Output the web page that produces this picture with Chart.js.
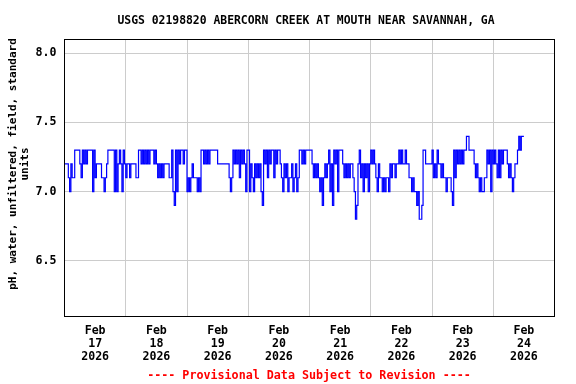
<!DOCTYPE html>
<html><head><meta charset="utf-8">
<script src="https://cdn.jsdelivr.net/npm/chart.js@4/dist/chart.umd.min.js"></script>
<style>html,body{margin:0;padding:0;background:#fff}#wrap{width:576px;height:384px;position:relative}</style>
</head><body><div id="wrap"><canvas id="c" width="576" height="384"></canvas></div>
<script>
const chartTitle = "USGS 02198820 ABERCORN CREEK AT MOUTH NEAR SAVANNAH, GA";
const yAxisLabel = ["pH, water, unfiltered, field, standard", "units"];
const footerText = "---- Provisional Data Subject to Revision ----";
const dayLabels = [["Feb","17","2026"],["Feb","18","2026"],["Feb","19","2026"],["Feb","20","2026"],["Feb","21","2026"],["Feb","22","2026"],["Feb","23","2026"],["Feb","24","2026"]];
const labelHours = [12,36,60,84,108,132,156,180];   // noon of each day, hours after Feb 17 00:00
const gridHours = [24,48,72,96,120,144,168];        // midnights
const yTicks = [6.5,7.0,7.5,8.0];
const stepHours = 0.5;                              // sampling interval of the series below

// pH readings, every 30 minutes from 00:00 of each day
const phFeb17 = [7.2,7.2,7.2,7.2,7.1,7.0,7.2,7.1,7.1,7.3,7.3,7.3,7.3,7.2,7.1,7.3,7.2,7.3,7.2,7.3,7.3,7.3,7.3,7.0,7.3,7.1,7.2,7.2,7.2,7.2,7.1,7.1,7.0,7.1,7.2,7.3,7.3,7.3,7.3,7.3,7.0,7.3,7.0,7.2,7.3,7.2,7.0,7.3];
const phFeb18 = [7.2,7.1,7.2,7.2,7.1,7.2,7.2,7.2,7.2,7.1,7.1,7.3,7.3,7.2,7.3,7.2,7.3,7.2,7.3,7.2,7.3,7.3,7.3,7.2,7.3,7.2,7.1,7.2,7.1,7.2,7.1,7.2,7.2,7.2,7.2,7.1,7.1,7.3,7.0,6.9,7.3,7.0,7.3,7.2,7.3,7.3,7.2,7.3];
const phFeb19 = [7.3,7.0,7.1,7.0,7.1,7.2,7.1,7.1,7.1,7.0,7.1,7.0,7.3,7.3,7.2,7.3,7.2,7.3,7.2,7.3,7.3,7.3,7.3,7.3,7.3,7.2,7.2,7.2,7.2,7.2,7.2,7.2,7.2,7.2,7.1,7.0,7.1,7.3,7.2,7.3,7.2,7.3,7.1,7.3,7.2,7.3,7.2,7.0];
const phFeb20 = [7.3,7.3,7.0,7.2,7.1,7.0,7.2,7.1,7.2,7.1,7.2,7.0,6.9,7.3,7.2,7.3,7.1,7.3,7.2,7.3,7.3,7.1,7.3,7.2,7.3,7.3,7.2,7.1,7.0,7.2,7.1,7.2,7.0,7.1,7.1,7.2,7.0,7.1,7.2,7.0,7.1,7.3,7.3,7.2,7.3,7.2,7.3,7.3];
const phFeb21 = [7.3,7.3,7.3,7.2,7.1,7.2,7.1,7.2,7.1,7.0,7.1,6.9,7.1,7.2,7.1,7.2,7.3,7.0,7.2,6.9,7.3,7.2,7.3,7.0,7.3,7.3,7.3,7.2,7.1,7.2,7.1,7.2,7.1,7.2,7.2,7.1,7.0,6.8,6.9,7.2,7.3,7.1,7.2,7.0,7.2,7.1,7.2,7.0];
const phFeb22 = [7.2,7.3,7.2,7.3,7.2,7.1,7.0,7.2,7.1,7.1,7.0,7.1,7.0,7.1,7.1,7.0,7.2,7.1,7.2,7.2,7.1,7.2,7.2,7.3,7.2,7.3,7.2,7.2,7.3,7.2,7.2,7.1,7.1,7.0,7.1,7.0,7.0,6.9,7.0,6.8,6.8,6.9,7.3,7.3,7.2,7.2,7.2,7.2];
const phFeb23 = [7.2,7.3,7.1,7.2,7.1,7.3,7.2,7.2,7.1,7.2,7.1,7.1,7.0,7.1,7.1,7.1,7.0,6.9,7.3,7.1,7.3,7.2,7.3,7.2,7.3,7.2,7.3,7.3,7.4,7.4,7.3,7.3,7.3,7.3,7.2,7.1,7.2,7.1,7.0,7.1,7.0,7.0,7.1,7.1,7.3,7.2,7.3,7.0];
const phFeb24 = [7.3,7.2,7.3,7.2,7.1,7.3,7.1,7.3,7.2,7.3,7.3,7.3,7.2,7.1,7.2,7.1,7.0,7.1,7.2,7.2,7.3,7.4,7.3,7.4,7.4];

const ph = [].concat(phFeb17, phFeb18, phFeb19, phFeb20, phFeb21, phFeb22, phFeb23, phFeb24);
const points = ph.map((v, i) => ({x: i * stepHours, y: v}));

const FONT = '"DejaVu Sans Mono", monospace';

const decor = {
  id: 'decor',
  afterDatasetsDraw(chart) {
    const {ctx, chartArea: a} = chart;
    ctx.save();
    ctx.strokeStyle = '#000';
    ctx.lineWidth = 1;
    ctx.strokeRect(Math.round(a.left) - 0.5, Math.round(a.top) - 0.5, Math.round(a.right - a.left), Math.round(a.bottom - a.top));
    ctx.fillStyle = '#000';
    ctx.textAlign = 'center';
    ctx.textBaseline = 'middle';
    ctx.font = 'bold 11.4px ' + FONT;
    ctx.fillText(chartTitle, 306, 21);
    ctx.save();
    ctx.font = 'bold 11px ' + FONT;
    ctx.translate(13, 164);
    ctx.rotate(-Math.PI / 2);
    ctx.fillText(yAxisLabel[0], 0, 0);
    ctx.fillText(yAxisLabel[1], 0, 12);
    ctx.restore();
    ctx.fillStyle = '#ff0000';
    ctx.font = 'bold 11.7px ' + FONT;
    ctx.fillText(footerText, 309, 376);
    ctx.restore();
  }
};

new Chart(document.getElementById('c'), {
  type: 'line',
  data: { datasets: [{ data: points, borderColor: '#0000ff', borderWidth: 1.2, pointRadius: 0, stepped: 'after', fill: false }] },
  options: {
    responsive: false, animation: false, devicePixelRatio: 1,
    layout: { padding: { left: 0, right: 21.5, top: 39.5, bottom: 0 } },
    plugins: { legend: { display: false }, tooltip: { enabled: false }, title: { display: false } },
    scales: {
      x: {
        type: 'linear', min: 0, max: 192,
        afterBuildTicks: s => { s.ticks = labelHours.concat(gridHours).sort((a,b)=>a-b).map(v => ({value: v})); },
        afterFit: s => { s.height = 68; },
        border: { display: false },
        grid: { drawTicks: false, color: c => gridHours.includes(c.tick && c.tick.value) ? '#cccccc' : 'rgba(0,0,0,0)', lineWidth: 1 },
        ticks: {
          autoSkip: false, maxRotation: 0, padding: 8, color: '#000',
          font: { family: FONT, size: 11.6, weight: 'bold', lineHeight: 1.15 },
          callback: v => { const k = labelHours.indexOf(v); return k >= 0 ? dayLabels[k] : ''; }
        }
      },
      y: {
        min: 6.1, max: 8.1,
        afterBuildTicks: s => { s.ticks = yTicks.map(v => ({value: v})); },
        afterFit: s => { s.width = 64.5; },
        border: { display: false },
        grid: { drawTicks: false, color: '#cccccc', lineWidth: 1 },
        ticks: {
          padding: 8, color: '#000',
          font: { family: FONT, size: 11.6, weight: 'bold' },
          callback: v => Number(v).toFixed(1)
        }
      }
    }
  },
  plugins: [decor]
});
</script>
</body></html>
